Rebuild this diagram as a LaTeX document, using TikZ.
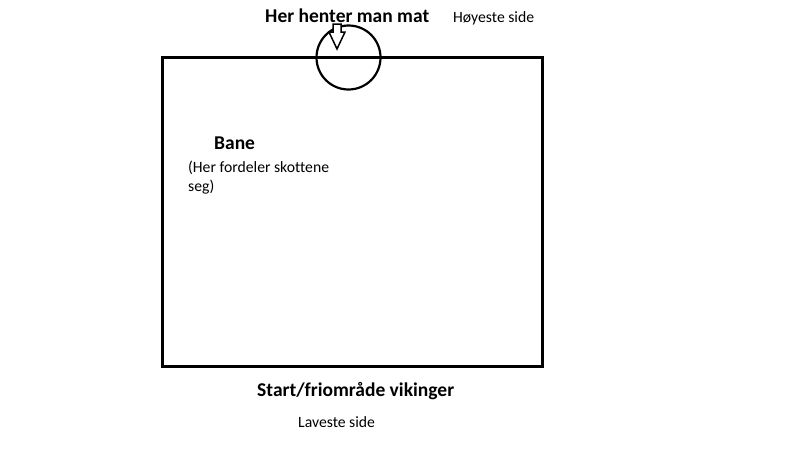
\documentclass[tikz,border=0pt]{standalone}
\usepackage{fontspec}
\setmainfont{Carlito}[Ligatures=NoCommon]
\begin{document}
\begin{tikzpicture}[x=1pt,y=-1pt,
  lbl/.style={inner sep=0pt, anchor=west},
  boldlbl/.style={lbl, font=\fontsize{19.5}{23}\selectfont\bfseries},
  smalllbl/.style={lbl, font=\fontsize{15.7}{18.5}\selectfont},
  field/.style={draw=black, line width=3pt},
  ring/.style={draw=black, line width=2.2pt},
  blockarrow/.style={draw=black, line width=1.5pt, fill=white, line join=miter}]
\useasboundingbox[fill=white] (0,0) rectangle (800,450);
\node[field, minimum width=380pt, minimum height=309pt, inner sep=0pt, anchor=north west] (bane) at (161,56) {};
\node[ring, circle, minimum size=64pt, inner sep=0pt] (mat) at (348.5,57.5) {};
\coordinate (tip) at (337,49);
\draw[blockarrow] (tip) -- ++(-8,-17) -- ++(4,0) -- ++(0,-8) -- ++(8,0) -- ++(0,8) -- ++(4,0) -- cycle;
\node[boldlbl] (t1) at (265,16) {Her henter man mat};
\node[smalllbl] (t2) at (453,18) {Høyeste side};
\node[boldlbl] (t3) at (214,143) {Bane};
\node[smalllbl, align=left, anchor=north west] (t4) at (188,161) {(Her fordeler skottene\\seg)};
\node[boldlbl] (t5) at (257,391) {Start/friområde vikinger};
\node[smalllbl] (t6) at (298,422) {Laveste side};
\end{tikzpicture}
\end{document}
